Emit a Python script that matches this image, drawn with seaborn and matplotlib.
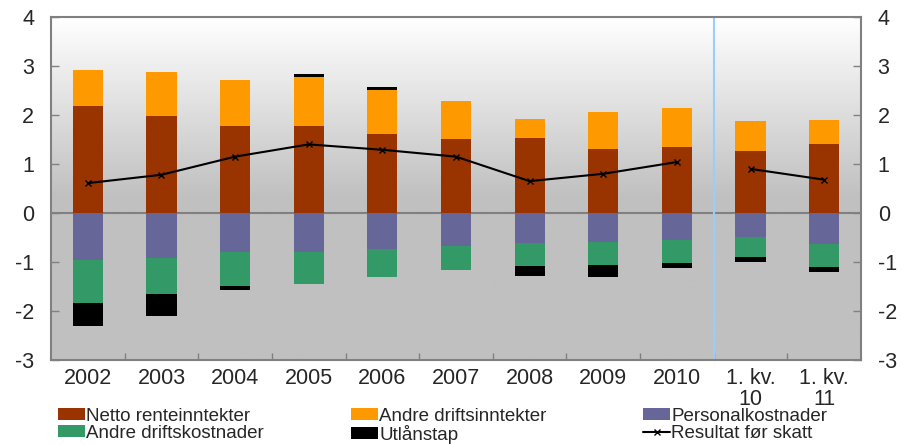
import numpy as np
import pandas as pd
import matplotlib
matplotlib.use("Agg")
import matplotlib.pyplot as plt
from matplotlib.patches import Patch
from matplotlib.lines import Line2D
from matplotlib.colors import LinearSegmentedColormap
import seaborn as sns

# ---- data ----
categories = ["2002", "2003", "2004", "2005", "2006", "2007", "2008", "2009", "2010",
              "1. kv.\n10", "1. kv.\n11"]
netto_renteinntekter = [2.18, 1.98, 1.78, 1.78, 1.61, 1.51, 1.54, 1.31, 1.35, 1.26, 1.40]
andre_driftsinntekter = [0.73, 0.90, 0.93, 0.99, 0.89, 0.77, 0.38, 0.76, 0.80, 0.61, 0.50]
personalkostnader = [-0.95, -0.91, -0.80, -0.80, -0.74, -0.67, -0.61, -0.59, -0.56, -0.48, -0.63]
andre_driftskostnader = [-0.88, -0.74, -0.69, -0.65, -0.57, -0.50, -0.47, -0.47, -0.46, -0.42, -0.47]
utlanstap = [-0.48, -0.45, -0.08, 0.07, 0.08, 0.0, -0.20, -0.24, -0.10, -0.09, -0.11]
resultat_for_skatt = [0.61, 0.78, 1.15, 1.40, 1.29, 1.15, 0.65, 0.80, 1.04, 0.90, 0.68]
yticks = [-3, -2, -1, 0, 1, 2, 3, 4]

labels = ["Netto renteinntekter", "Andre driftsinntekter", "Personalkostnader",
          "Andre driftskostnader", "Utlånstap", "Resultat før skatt"]
colors = ["#993300", "#FF9900", "#666699", "#339966", "#000000", "#000000"]

sns.set_style("white")
plt.rcParams["font.family"] = ["Liberation Sans", "DejaVu Sans"]

fig = plt.figure(figsize=(9.03, 4.44), dpi=100)
ax = fig.add_axes([51 / 903, 84 / 444, 810 / 903, 343 / 444])

df = pd.DataFrame({"cat": categories,
                   "netto": netto_renteinntekter,
                   "innt": andre_driftsinntekter,
                   "pers": personalkostnader,
                   "kost": andre_driftskostnader,
                   "utl": utlanstap})
netto = np.array(netto_renteinntekter)
innt = np.array(andre_driftsinntekter)
pers = np.array(personalkostnader)
kost = np.array(andre_driftskostnader)
utl = np.array(utlanstap)

bw = 0.41
common = dict(x="cat", order=categories, width=bw, ax=ax, edgecolor="none",
              linewidth=0, zorder=3, saturation=1)
sns.barplot(data=df, y="netto", color=colors[0], **common)
sns.barplot(data=df, y="innt", color=colors[1], bottom=netto, **common)
sns.barplot(data=df, y="pers", color=colors[2], **common)
sns.barplot(data=df, y="kost", color=colors[3], bottom=pers, **common)
black_bottom = np.where(utl > 0, netto + innt, pers + kost)
sns.barplot(data=df, y="utl", color=colors[4], bottom=black_bottom, **common)

# result line (broken between annual and quarterly)
xs = np.arange(len(categories))
res = np.array(resultat_for_skatt)
for sl in (slice(0, 9), slice(9, 11)):
    sns.lineplot(x=xs[sl], y=res[sl], ax=ax, color="black", linewidth=1.5,
                 marker="x", markersize=5, markeredgewidth=1.0,
                 markeredgecolor="black", markerfacecolor="black", sort=False,
                 zorder=5, legend=False)

ax.set_xlim(-0.5, len(categories) - 0.5)
ax.set_ylim(-3, 4)

# gradient background
yy = np.linspace(-3, 4, 400)
vals = np.clip((yy - 0.3) / (4 - 0.3), 0, 1)
img = np.tile(vals[:, None], (1, 2))
ax.imshow(img, extent=[-0.5, len(categories) - 0.5, -3, 4], origin="lower",
          aspect="auto", cmap=LinearSegmentedColormap.from_list("g", ["#c0c0c0", "#ffffff"]),
          zorder=0, interpolation="bilinear")

ax.axhline(0, color="#808080", linewidth=1.5, zorder=2)
ax.axvline(8.5, color="#99ccff", linewidth=1.5, zorder=2)

for s in ax.spines.values():
    s.set_color("#808080")
    s.set_linewidth(1.5)

ax.set_xticks(xs)
ax.set_xticklabels(categories, fontsize=15.5, linespacing=1.0)
ax.set_xticks(np.arange(0.5, len(categories) - 0.5, 1.0), minor=True)
ax.tick_params(axis="x", which="major", length=0, pad=6)
ax.tick_params(axis="x", which="minor", direction="in", length=5, width=1, color="#808080", bottom=True)
ax.set_xlabel("")
ax.set_ylabel("")
ax.set_yticks(yticks)
ax.set_yticklabels([str(t) for t in yticks], fontsize=15.5)
ax.tick_params(axis="y", direction="in", length=6, width=1, color="#808080", left=True, pad=12)

ax2 = ax.twinx()
ax2.set_ylim(-3, 4)
ax2.set_yticks(yticks)
ax2.set_yticklabels([str(t) for t in yticks], fontsize=15.5)
ax2.tick_params(axis="y", direction="in", length=6, width=1, color="#808080", right=True, pad=12)
for s in ax2.spines.values():
    s.set_visible(False)

# legend (three single-column legends)
handles = [Patch(facecolor=c, edgecolor="none") for c in colors[:5]]
handles.append(Line2D([0], [0], color="black", linewidth=1.5, marker="x", markersize=4))
cols = [(0, 3), (1, 4), (2, 5)]
xpos = [58 / 903, 351 / 903, 643 / 903]
for (i, j), xp in zip(cols, xpos):
    fig.legend([handles[i], handles[j]], [labels[i], labels[j]], loc="upper left",
               bbox_to_anchor=(xp, 1 - 408 / 444), frameon=False, fontsize=13.5,
               handlelength=1.45, handleheight=0.6, handletextpad=0.05,
               labelspacing=0.0, borderaxespad=0, borderpad=0)

fig.savefig("out.png", dpi=100)
